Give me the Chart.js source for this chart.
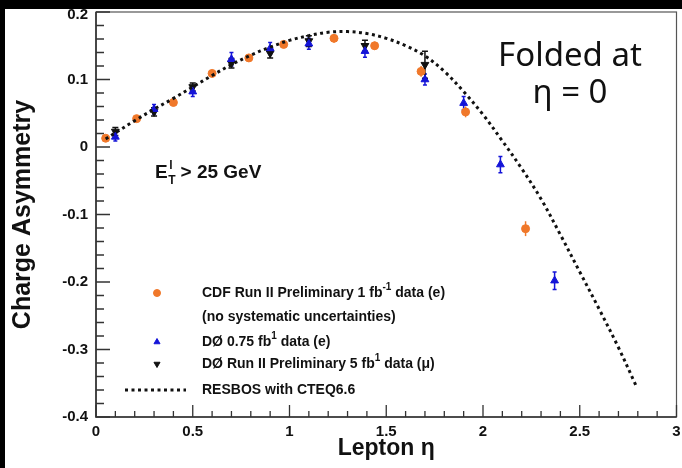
<!DOCTYPE html>
<html>
<head>
<meta charset="utf-8">
<script src="https://cdn.jsdelivr.net/npm/chart.js@4.4.0/dist/chart.umd.min.js"></script>
<style>
  html, body { margin: 0; padding: 0; background: #fff; }
  #wrap { width: 682px; height: 468px; }
</style>
</head>
<body>
<div id="wrap"><canvas id="asymChart" width="682" height="468"></canvas></div>
<script>
// CDF Run II electrons (1 fb-1)
const etaCDF = [0.05, 0.21, 0.40, 0.60, 0.79, 0.97, 1.23, 1.44, 1.68, 1.91, 2.22];
const asymCDF = [0.013, 0.042, 0.066, 0.109, 0.132, 0.152, 0.161, 0.150, 0.112, 0.052, -0.121];
const errCDF = [0.004, 0.004, 0.004, 0.005, 0.005, 0.005, 0.006, 0.006, 0.008, 0.008, 0.011];

// D0 electrons (0.75 fb-1)
const etaD0e = [0.10, 0.30, 0.50, 0.70, 0.90, 1.10, 1.39, 1.70, 1.90, 2.09, 2.37];
const asymD0e = [0.015, 0.056, 0.082, 0.130, 0.146, 0.153, 0.142, 0.100, 0.065, -0.026, -0.198];
const errD0e = [0.006, 0.007, 0.007, 0.010, 0.009, 0.008, 0.009, 0.008, 0.010, 0.012, 0.013];

// D0 muons (5 fb-1)
const etaD0mu = [0.10, 0.30, 0.50, 0.70, 0.90, 1.10, 1.39, 1.70];
const asymD0mu = [0.023, 0.052, 0.089, 0.124, 0.139, 0.157, 0.150, 0.122];
const errD0mu = [0.006, 0.006, 0.006, 0.007, 0.007, 0.008, 0.008, 0.020];

// RESBOS prediction
const etaResbos = [0.05, 0.1, 0.2, 0.3, 0.4, 0.5, 0.6, 0.7, 0.8, 0.9, 1.0, 1.1, 1.2, 1.3, 1.4,
  1.5, 1.6, 1.7, 1.8, 1.9, 2.0, 2.1, 2.2, 2.3, 2.4, 2.5, 2.6, 2.7, 2.79];
const asymResbos = [0.012, 0.021, 0.039, 0.056, 0.072, 0.089, 0.106, 0.122, 0.136, 0.148, 0.158,
  0.165, 0.170, 0.171, 0.168, 0.161, 0.150, 0.135, 0.112, 0.082, 0.048, 0.009, -0.032, -0.077,
  -0.130, -0.185, -0.240, -0.297, -0.353];

const xTicks = [0, 0.5, 1, 1.5, 2, 2.5, 3];
const yTicks = [-0.4, -0.3, -0.2, -0.1, 0, 0.1, 0.2];

const ORANGE = '#f0782a';
const BLUE = '#1414d8';
const BLACK = '#111111';
const FONT = '"Liberation Sans", Arial, Helvetica, sans-serif';

const toPoints = (xs, ys) => xs.map((x, i) => ({ x: x, y: ys[i] }));

// black edges of the page
const pageFrame = {
  id: 'pageFrame',
  beforeDraw(chart) {
    const ctx = chart.ctx;
    ctx.save();
    ctx.fillStyle = '#fff';
    ctx.fillRect(0, 0, chart.width, chart.height);
    ctx.fillStyle = '#000';
    ctx.fillRect(0, 0, chart.width, 9);
    ctx.fillRect(0, 0, 5, chart.height);
    ctx.restore();
  },
};

// frame plus inward major/minor ticks
const axisDecor = {
  id: 'axisDecor',
  beforeDatasetsDraw(chart) {
    const { ctx, chartArea: a, scales } = chart;
    ctx.save();
    ctx.strokeStyle = '#555';
    ctx.lineWidth = 1.2;
    ctx.strokeRect(a.left, a.top, a.right - a.left, a.bottom - a.top);
    ctx.strokeStyle = '#333';
    ctx.lineWidth = 1.6;
    ctx.beginPath();
    ctx.moveTo(a.left, a.top);
    ctx.lineTo(a.left, a.bottom);
    ctx.lineTo(a.right, a.bottom);
    ctx.stroke();

    ctx.lineWidth = 1.3;
    ctx.beginPath();
    for (let i = 0; i <= 30; i++) {
      const px = scales.x.getPixelForValue(i / 10);
      const len = i % 5 === 0 ? 12 : 6;
      ctx.moveTo(px, a.bottom);
      ctx.lineTo(px, a.bottom - len);
    }
    for (let i = 0; i <= 30; i++) {
      const v = -0.4 + i * 0.02;
      const py = scales.y.getPixelForValue(v);
      const len = i % 5 === 0 ? 14 : 8;
      ctx.moveTo(a.left, py);
      ctx.lineTo(a.left + len, py);
    }
    ctx.stroke();
    ctx.restore();
  },
  afterDraw(chart) {
    const { ctx, chartArea: a, scales } = chart;
    ctx.save();
    ctx.fillStyle = BLACK;
    ctx.font = `bold 15px ${FONT}`;
    ctx.textAlign = 'right';
    ctx.textBaseline = 'middle';
    yTicks.forEach((v) => {
      const py = Math.max(scales.y.getPixelForValue(v), a.top + 3);
      ctx.fillText(String(v), a.left - 8, py);
    });
    ctx.restore();
  },
};

// vertical error bars read from dataset.errors
const errorBars = {
  id: 'errorBars',
  beforeDatasetsDraw(chart) {
    const { ctx, scales } = chart;
    chart.data.datasets.forEach((ds) => {
      if (!ds.errors) return;
      ctx.save();
      ctx.strokeStyle = ds.borderColor;
      ctx.lineWidth = 1.5;
      ds.data.forEach((p, i) => {
        const px = scales.x.getPixelForValue(p.x);
        const yHi = scales.y.getPixelForValue(p.y + ds.errors[i]);
        const yLo = scales.y.getPixelForValue(p.y - ds.errors[i]);
        ctx.beginPath();
        ctx.moveTo(px, yHi);
        ctx.lineTo(px, yLo);
        if (ds.capWidth) {
          ctx.moveTo(px - ds.capWidth, yHi);
          ctx.lineTo(px + ds.capWidth, yHi);
          ctx.moveTo(px - ds.capWidth, yLo);
          ctx.lineTo(px + ds.capWidth, yLo);
        }
        ctx.stroke();
      });
      ctx.restore();
    });
  },
};

function drawRich(ctx, x, y, parts, size) {
  parts.forEach((p) => {
    const fs = p.sup ? Math.round(size * 0.68) : size;
    ctx.font = `bold ${fs}px ${FONT}`;
    const dy = p.sup ? -size * 0.38 : 0;
    ctx.fillText(p.text, x, y + dy);
    x += ctx.measureText(p.text).width;
  });
  return x;
}

// legend, cut label and the note on the right
const plotText = {
  id: 'plotText',
  afterDraw(chart) {
    const { ctx, chartArea: a } = chart;
    const sets = chart.data.datasets;
    ctx.save();
    ctx.fillStyle = BLACK;
    ctx.textBaseline = 'middle';
    ctx.textAlign = 'left';

    const mx = a.left + 61;
    const tx = a.left + 106;
    const rows = [
      { ds: sets[1], y: a.top + 281, text: [{ text: 'CDF Run II Preliminary 1 fb' }, { text: '-1', sup: true }, { text: ' data (e)' }] },
      { ds: null, y: a.top + 305, text: [{ text: '(no systematic uncertainties)' }] },
      { ds: sets[2], y: a.top + 330, text: [{ text: 'DØ 0.75 fb' }, { text: '1', sup: true }, { text: ' data (e)' }] },
      { ds: sets[3], y: a.top + 352, text: [{ text: 'DØ Run II Preliminary 5 fb' }, { text: '1', sup: true }, { text: ' data (μ)' }] },
      { ds: sets[0], y: a.top + 378, text: [{ text: sets[0].label }] },
    ];
    rows.forEach((r) => {
      if (r.ds && r.ds.showLine) {
        ctx.save();
        ctx.strokeStyle = r.ds.borderColor;
        ctx.lineWidth = r.ds.borderWidth;
        ctx.setLineDash(r.ds.borderDash);
        ctx.beginPath();
        ctx.moveTo(a.left + 29, r.y);
        ctx.lineTo(a.left + 90, r.y);
        ctx.stroke();
        ctx.restore();
      } else if (r.ds) {
        ctx.save();
        ctx.fillStyle = r.ds.backgroundColor;
        ctx.strokeStyle = r.ds.borderColor;
        Chart.helpers.drawPoint(ctx, {
          pointStyle: r.ds.pointStyle,
          radius: 3.5,
          rotation: r.ds.pointRotation || 0,
          borderWidth: 1,
        }, mx, r.y);
        ctx.restore();
      }
      drawRich(ctx, tx, r.y, r.text, 14);
    });

    // transverse energy cut
    let x = a.left + 59;
    const y = a.top + 161;
    ctx.font = `bold 19px ${FONT}`;
    ctx.fillText('E', x, y);
    x += ctx.measureText('E').width + 0.5;
    ctx.font = `bold 12px ${FONT}`;
    ctx.fillText('l', x + 1, y - 7);
    ctx.fillText('T', x, y + 8);
    x += ctx.measureText('T').width + 5;
    ctx.font = `bold 19px ${FONT}`;
    ctx.fillText('> 25 GeV', x, y);

    ctx.textAlign = 'center';
    ctx.textBaseline = 'alphabetic';
    ctx.font = '33px "Noto Sans", "Open Sans", sans-serif';
    ctx.fillText('Folded at', 570, 66);
    ctx.fillText('η = 0', 570, 103);
    ctx.restore();
  },
};

const config = {
  type: 'scatter',
  data: {
    datasets: [
      {
        label: 'RESBOS with CTEQ6.6',
        data: toPoints(etaResbos, asymResbos),
        showLine: true,
        borderColor: BLACK,
        borderWidth: 3,
        borderDash: [3, 3.5],
        pointRadius: 0,
        tension: 0.35,
        order: 0,
      },
      {
        label: 'CDF Run II Preliminary 1 fb-1 data (e)',
        data: toPoints(etaCDF, asymCDF),
        errors: errCDF,
        capWidth: 0,
        pointStyle: 'circle',
        pointRadius: 4,
        backgroundColor: ORANGE,
        borderColor: ORANGE,
        order: 3,
      },
      {
        label: 'DØ 0.75 fb-1 data (e)',
        data: toPoints(etaD0e, asymD0e),
        errors: errD0e,
        capWidth: 2,
        pointStyle: 'triangle',
        pointRadius: 4.5,
        backgroundColor: BLUE,
        borderColor: BLUE,
        order: 1,
      },
      {
        label: 'DØ Run II Preliminary 5 fb-1 data (μ)',
        data: toPoints(etaD0mu, asymD0mu),
        errors: errD0mu,
        capWidth: 3,
        pointStyle: 'triangle',
        pointRotation: 180,
        pointRadius: 4.5,
        backgroundColor: BLACK,
        borderColor: BLACK,
        order: 2,
      },
    ],
  },
  options: {
    responsive: false,
    animation: false,
    devicePixelRatio: 1,
    events: [],
    layout: { padding: { top: 12, right: 4, left: 0, bottom: 0 } },
    plugins: {
      legend: { display: false },
      tooltip: { enabled: false },
    },
    scales: {
      x: {
        type: 'linear',
        min: 0,
        max: 3,
        afterFit: (scale) => {
          scale.height = 51;
          scale.paddingLeft = 0;
          scale.paddingRight = 0;
        },
        afterBuildTicks: (scale) => { scale.ticks = xTicks.map((v) => ({ value: v })); },
        grid: { display: false, drawTicks: false },
        border: { display: false },
        ticks: {
          padding: 6,
          maxRotation: 0,
          autoSkip: false,
          color: BLACK,
          callback: (v) => String(v),
          font: { family: FONT, size: 15, weight: 'bold' },
        },
        title: {
          display: true,
          text: 'Lepton η',
          color: BLACK,
          padding: { top: 0, bottom: 6 },
          font: { family: FONT, size: 23, weight: 'bold' },
        },
      },
      y: {
        type: 'linear',
        min: -0.4,
        max: 0.2,
        afterFit: (scale) => { scale.width = 96; },
        grid: { display: false, drawTicks: false },
        border: { display: false },
        ticks: { display: false },
        title: {
          display: true,
          text: 'Charge Asymmetry',
          color: BLACK,
          padding: { top: 8, bottom: 0 },
          font: { family: FONT, size: 25, weight: 'bold' },
        },
      },
    },
  },
  plugins: [pageFrame, axisDecor, errorBars, plotText],
};

new Chart(document.getElementById('asymChart').getContext('2d'), config);
</script>
</body>
</html>
